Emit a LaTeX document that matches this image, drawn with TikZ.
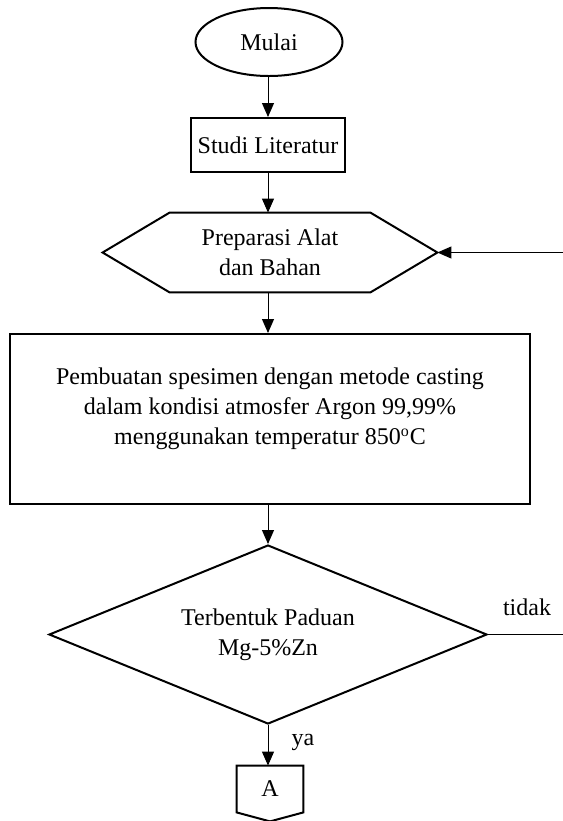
\documentclass[tikz,border=0pt]{standalone}
\usepackage{fontspec}
\setmainfont{Liberation Serif}
\usepackage{tikz}
\usetikzlibrary{arrows.meta,shapes.geometric}

\begin{document}
\begin{tikzpicture}[x=0.5pt,y=-0.5pt,
    font=\fontsize{12}{15}\selectfont,
    shapeline/.style={draw, line width=1pt},
    flow/.style={line width=0.5pt, -{Triangle[length=7pt,width=6pt]}},
    plain/.style={line width=0.5pt}]
    \useasboundingbox (0,0) rectangle (563,821);
    \node[shapeline, ellipse, minimum width=73.5pt, minimum height=34pt, inner sep=0pt] (mulai) at (269,42) {Mulai};
    \node[shapeline, rectangle, minimum width=65pt, minimum height=27pt] (studi) at (268,145) {Studi Literatur};
    \node[minimum width=167pt, minimum height=39.5pt, align=center] (prep) at (270,252.5) {Preparasi Alat\\dan Bahan};
    \draw[line width=1pt] (prep.west) -- ([xshift=33.5pt]prep.north west) -- ([xshift=-33.5pt]prep.north east)
        -- (prep.east) -- ([xshift=-33.5pt]prep.south east) -- ([xshift=33.5pt]prep.south west) -- cycle;
    \node[shapeline, rectangle, minimum width=260pt, minimum height=85pt] (cast) at (270,419) {};
    \node[align=center, inner sep=0pt] (casttext) at (270,409) {Pembuatan spesimen dengan metode casting\\dalam kondisi atmosfer Argon 99,99\%\\menggunakan temperatur 850\textsuperscript{o}C};
    \node[shapeline, diamond, aspect=2.4, minimum width=219pt, minimum height=89.5pt, inner sep=0pt, align=center] (dec) at (268,634.5) {Terbentuk Paduan\\Mg-5\%Zn};
    \node[minimum width=33pt, minimum height=23pt, inner sep=0pt] (conA) at (270,789) {A};
    \draw[line width=1pt] (conA.north west) -- (conA.north east) -- (conA.south east)
        -- ([yshift=-4.5pt]conA.south) -- (conA.south west) -- cycle;
    \coordinate (loopin) at (563,252.5);
    \coordinate (loopout) at (563,634.5);
    \node (tidak) at (527,607) {tidak};
    \node (ya) at (303,742) {ya};
    \draw[flow] (mulai.south -| 268,0) -- (studi.north -| 268,0);
    \draw[flow] (studi.south) -- (prep.north -| studi.south);
    \draw[flow] (prep.south -| studi.south) -- (cast.north -| studi.south);
    \draw[flow] (cast.south -| dec.north) -- (dec.north);
    \draw[flow] (dec.south) -- (conA.north -| dec.south);
    \draw[flow] (loopin) -- (prep.east);
    \draw[plain] (dec.east) -- (loopout);
\end{tikzpicture}
\end{document}
